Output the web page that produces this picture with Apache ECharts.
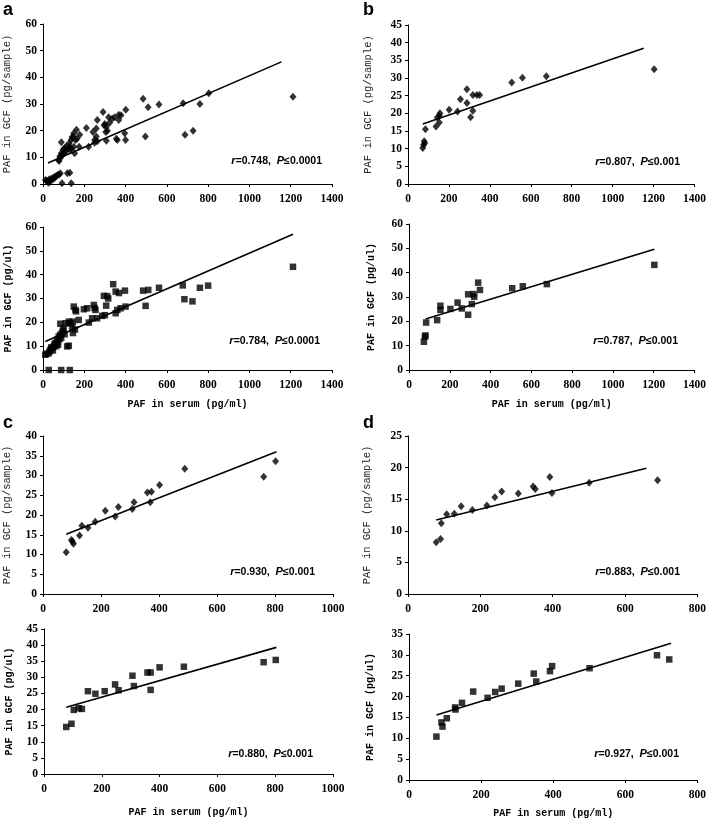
<!DOCTYPE html>
<html><head><meta charset="utf-8">
<script src="https://cdn.jsdelivr.net/npm/echarts@6/dist/echarts.min.js"></script>
<style>html,body{margin:0;padding:0;background:#fff}#c{width:709px;height:821px}</style>
</head><body><div id="c"></div>
<script>
// ---------- data ----------
const aSample = [[12,1.5],[18,1.2],[22,0.8],[28,0.5],[30,1.8],[35,1.2],[40,2.0],[45,1.6],[50,2.4],[55,2.2],[60,2.8],[65,3.0],[70,3.4],[78,3.6],[84,4.0],[118,4.0],[130,4.2],[92,0.3],[137,0.3],
 [89,15.7],[75,9.0],[78,8.6],[81,10.4],[85,9.8],[89,11.6],[93,10.8],[97,12.8],[100,11.5],[105,13.5],[110,12.2],[113,14.1],[120,13.0],[126,15.3],[129,14.1],[133,12.8],[137,16.6],[137,13.3],[141,17.5],[145,17.8],[149,19.0],[149,14.0],[153,11.5],[157,16.5],[162,20.3],[165,17.0],[178,18.5],[175,14.0],[210,21.0],[221,14.0],[242,19.5],[250,16.5],[250,15.5],[258,17.8],[258,20.8],[263,24.0],[263,16.0],[291,27.0],[296,22.0],[300,22.5],[304,19.5],[307,21.5],[307,16.2],[312,20.0],[318,25.0],[323,23.0],[335,24.5],[347,25.0],[355,17.0],[360,16.5],[367,26.0],[367,24.0],[378,25.8],[396,19.0],[400,16.5],[401,27.8],[485,32.0],[496,17.8],[509,28.8],[562,29.8],[679,30.3],[688,18.5],[727,20.0],[760,30.0],[803,34.0],[1211,32.7]];
const aFluid = [[28,0],[88,0],[130,0],[11,6.4],[20,6.8],[28,7.1],[32,7.8],[36,8.5],[40,9.5],[44,9.2],[48,8.2],[52,9.9],[56,10.8],[60,11.3],[64,10.0],[68,12.7],[72,11.8],[73,10.6],[76,14.1],[80,13.0],[84,14.8],[84,19.4],[88,13.5],[92,15.5],[96,16.5],[100,17.5],[105,15.0],[109,19.6],[117,9.9],[125,10.2],[125,20.3],[133,19.6],[141,18.0],[144,20.3],[145,15.5],[149,26.6],[155,17.0],[157,25.2],[160,24.6],[173,21.0],[198,25.5],[214,25.9],[222,19.9],[238,21.7],[246,27.3],[250,26.0],[254,25.2],[262,21.7],[287,22.7],[295,31.1],[300,23.0],[306,27.0],[311,31.0],[316,30.0],[340,36.0],[352,32.9],[352,23.8],[360,25.2],[368,32.3],[376,25.9],[397,33.3],[400,26.6],[485,33.3],[497,26.9],[510,33.6],[562,34.5],[677,35.5],[685,29.7],[724,28.8],[760,34.5],[800,35.4],[1211,43.3]];
const bSample = [[72,10.2],[76,11.1],[79,12.1],[82,11.5],[85,15.5],[137,16.3],[143,18.8],[153,19.3],[153,17.4],[156,20],[201,21],[242,20.5],[256,24],[288,26.8],[288,22.9],[306,18.9],[317,20.7],[317,25.2],[337,25.2],[350,25.2],[507,28.7],[559,30.1],[676,30.5],[1203,32.5]];
const bFluid = [[73,11.6],[78,13.7],[81,14.2],[84,19.5],[138,20.5],[154,26.4],[154,24.7],[203,25.1],[238,27.7],[259,25.3],[290,22.7],[290,31.1],[308,27.1],[316,31.2],[320,30.1],[339,35.9],[348,32.9],[506,33.6],[558,34.4],[676,35.3],[1203,43.2]];
const cSample = [[80,10.6],[98,13.7],[101,13.3],[105,12.7],[126,14.8],[134,17.3],[155,16.8],[180,18.3],[215,21.1],[249,19.6],[260,22],[308,21.5],[314,23.2],[360,25.7],[374,25.9],[370,23.2],[402,27.6],[489,31.7],[761,29.7],[802,33.6]];
const cFluid = [[77,14.6],[95,15.6],[103,19.9],[120,20.4],[131,20.2],[152,25.7],[178,24.9],[210,25.7],[246,27.8],[258,26],[306,30.5],[311,27.3],[358,31.5],[369,31.5],[369,26.1],[400,33.1],[484,33.3],[760,34.7],[802,35.4]];
const dSample = [[78,8.2],[90,8.7],[92,11.2],[107,12.6],[128,12.7],[147,13.9],[178,13.3],[218,14],[240,15.3],[259,16.2],[305,15.9],[346,17],[352,16.6],[392,18.5],[398,16],[501,17.6],[690,18]];
const dFluid = [[76,10.4],[90,13.8],[93,12.8],[105,14.8],[128,17.4],[129,16.9],[147,18.5],[178,21.2],[218,19.7],[239,21.1],[257,21.9],[303,23.1],[346,25.5],[353,23.6],[391,26.1],[397,27.3],[501,26.8],[688,29.9],[722,28.9]];
// fitted lines (end points)
const aSampleFit = [[24,7.9],[1155,45.8]];
const aFluidFit = [[11,12],[1211,57]];
const bSampleFit = [[72,17],[1152,38.4]];
const bFluidFit = [[81,21],[1203,49.6]];
const cSampleFit = [[80,15.1],[805,36]];
const cFluidFit = [[77,20.7],[804,39.3]];
const dSampleFit = [[78,11.7],[659,19.9]];
const dFluidFit = [[76,15.6],[727,32.8]];
// stats text
const rValues = ['0.748','0.784','0.807','0.787','0.930','0.880','0.883','0.927'];
const pValues = ['0.0001','0.0001','0.001','0.001','0.001','0.001','0.001','0.001'];
const xMax = [1400,1400,1400,1400,1000,1000,800,800];
const yMax = [60,60,45,60,40,45,25,35];
const yStep = [10,10,5,10,5,5,5,5];
const yNameTop = 'PAF in GCF (pg/sample)';
const yNameBottom = 'PAF in GCF (pg/ul)';
const xName = 'PAF in serum (pg/ml)';
const panelLetters = ['a','b','c','d'];

// ---------- layout ----------
const pts = [aSample,aFluid,bSample,bFluid,cSample,cFluid,dSample,dFluid];
const fits = [aSampleFit,aFluidFit,bSampleFit,bFluidFit,cSampleFit,cFluidFit,dSampleFit,dFluidFit];
const grids = [
  {left:43,top:24,width:289,height:160},
  {left:43,top:227,width:289,height:143},
  {left:408,top:25,width:289,height:159},
  {left:409,top:224,width:288,height:146},
  {left:43,top:436,width:290,height:158},
  {left:44,top:629,width:289,height:145},
  {left:408,top:436,width:292,height:158},
  {left:409,top:634,width:291,height:146}
];
const yGap = [30,30,34,33,30,30,35,34];
const xGap = [0,29,0,29,0,33,0,28];
const statPos = [[322,161],[320,341],[680,162],[678,341],[315,572],[313,754],[680,572],[679,754]];
const letterPos = [[3,10],[363,10],[3,423],[363,423]];

const tickFont = {fontFamily:'Liberation Serif', fontWeight:'bold', fontSize:11.5, color:'#000', formatter: v => String(v)};
const option = {
  animation:false,
  backgroundColor:'#fff',
  grid: grids,
  xAxis: grids.map((g,i)=>({
    type:'value', gridIndex:i, min:0, max:xMax[i], interval:200,
    name: i%2===1 ? xName : '', nameLocation:'middle', nameGap:xGap[i],
    nameTextStyle:{fontFamily:'Liberation Mono', fontWeight:'bold', fontSize:10, color:'#000'},
    axisLine:{lineStyle:{color:'#000',width:1}},
    axisTick:{show:true,length:3,lineStyle:{color:'#000'}},
    axisLabel:Object.assign({margin:9}, tickFont),
    splitLine:{show:false}
  })),
  yAxis: grids.map((g,i)=>({
    type:'value', gridIndex:i, min:0, max:yMax[i], interval:yStep[i],
    name: i%2===0 ? yNameTop : yNameBottom, nameLocation:'middle', nameGap:yGap[i],
    nameTextStyle: i%2===0 ? {fontFamily:'Liberation Mono', fontWeight:'normal', fontSize:10.5, color:'#222'}
                           : {fontFamily:'Liberation Mono', fontWeight:'bold', fontSize:10, color:'#000'},
    axisLine:{show:true,lineStyle:{color:'#000',width:1}},
    axisTick:{show:true,length:3,lineStyle:{color:'#000'}},
    axisLabel:Object.assign({margin:6}, tickFont),
    splitLine:{show:false}
  })),
  series: [],
  graphic: []
};
pts.forEach((d,i)=>{
  option.series.push({
    type:'scatter', xAxisIndex:i, yAxisIndex:i, data:d,
    symbol: i%2===0 ? 'diamond' : 'rect',
    symbolSize: i%2===0 ? [7,8] : 6.5,
    itemStyle:{color:'#000'}, z:3
  });
  option.series.push({
    type:'line', xAxisIndex:i, yAxisIndex:i, data:fits[i],
    symbol:'none', lineStyle:{color:'#000',width:1.6}, z:2
  });
  option.graphic.push({
    type:'text', x:statPos[i][0], y:statPos[i][1],
    style:{
      text:'{i|r}{b|=' + rValues[i] + ',  }{i|P}{b|≤' + pValues[i] + '}',
      align:'right', verticalAlign:'middle',
      rich:{
        i:{fontFamily:'Liberation Sans', fontStyle:'italic', fontWeight:'bold', fontSize:11, fill:'#000'},
        b:{fontFamily:'Liberation Sans', fontWeight:'bold', fontSize:10.5, fill:'#000'}
      }
    }
  });
});
panelLetters.forEach((l,k)=>{
  option.graphic.push({type:'text', x:letterPos[k][0], y:letterPos[k][1],
    style:{text:l, fontFamily:'Liberation Sans', fontWeight:'bold', fontSize:18, fill:'#000', verticalAlign:'middle'}});
});
echarts.init(document.getElementById('c')).setOption(option);
</script></body></html>
